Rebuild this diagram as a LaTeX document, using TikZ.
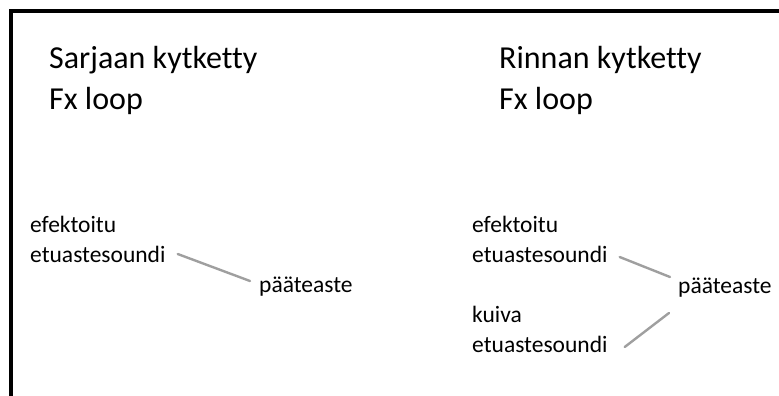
\documentclass[tikz,border=0pt]{standalone}
\usepackage{fontspec}
\setmainfont[Ligatures=NoCommon]{Carlito}
\tikzset{
  otsikko/.style={anchor=base west, inner sep=0pt, align=left, font=\fontsize{32}{40}\selectfont},
  laite/.style={anchor=base west, inner sep=0pt, align=left, font=\fontsize{23.5}{30}\selectfont},
  kytkos/.style={draw=gray!75, line width=2.4pt, line cap=round}
}
\begin{document}
\begin{tikzpicture}[x=1pt, y=-1pt]
  \useasboundingbox (0, 0) rectangle (779, 396);
  \draw[line width=4pt] (11, 396) -- (11, 11) -- (779, 11);

  % sarjaan kytketty
  \node[otsikko] (sarja) at (49, 109) {Sarjaan kytketty\\Fx loop};
  \node[laite] (effL) at (30, 262) {efektoitu\\etuastesoundi};
  \node[laite] (pteL) at (259, 292) {pääteaste};
  \draw[kytkos] ([shift={(12, -8)}]effL.base east) -- ([shift={(-9, -11)}]pteL.base west);

  % rinnan kytketty
  \node[otsikko] (rinnan) at (499, 109) {Rinnan kytketty\\Fx loop};
  \node[laite] (effR) at (472, 262) {efektoitu\\etuastesoundi};
  \node[laite] (kuiva) at (472, 352) {kuiva\\etuastesoundi};
  \node[laite] (pteR) at (678, 293) {pääteaste};
  \draw[kytkos] ([shift={(12, -5)}]effR.base east) -- ([shift={(-8, -16)}]pteR.base west);
  \draw[kytkos] ([shift={(17, -5)}]kuiva.base east) -- ([shift={(-9, 20)}]pteR.base west);
\end{tikzpicture}
\end{document}
